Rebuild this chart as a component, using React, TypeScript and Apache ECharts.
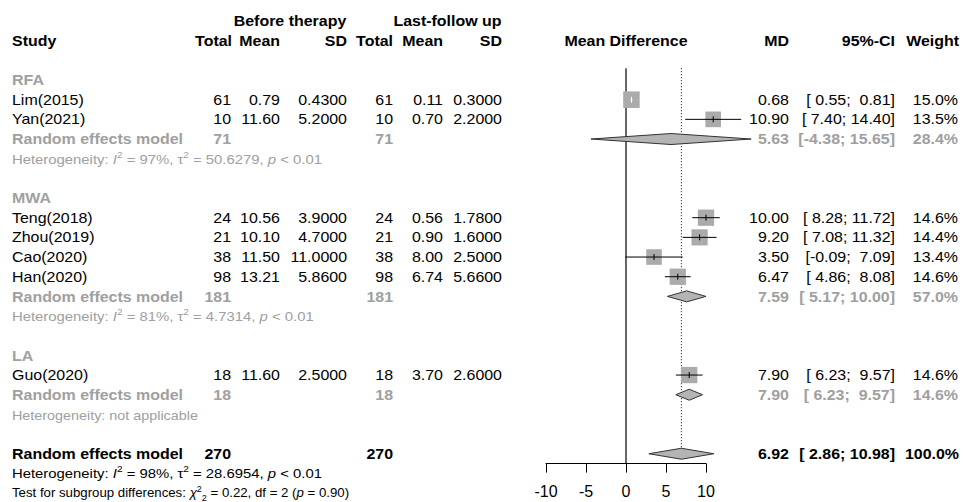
import React, { useEffect, useRef } from "react";
import * as echarts from "echarts";

// ---------- data ----------
const groupLabels = ["RFA", "MWA", "LA"];
const studyNames = ["Lim(2015)", "Yan(2021)", "Teng(2018)", "Zhou(2019)", "Cao(2020)", "Han(2020)", "Guo(2020)"];
const studyGroup = [0, 0, 1, 1, 1, 1, 2];
const beforeTotal = [61, 10, 24, 21, 38, 98, 18];
const beforeMean = [0.79, 11.6, 10.56, 10.1, 11.5, 13.21, 11.6];
const beforeSD = [0.43, 5.2, 3.9, 4.7, 11.0, 5.86, 2.5];
const afterTotal = [61, 10, 24, 21, 38, 98, 18];
const afterMean = [0.11, 0.7, 0.56, 0.9, 8.0, 6.74, 3.7];
const afterSD = [0.3, 2.2, 1.78, 1.6, 2.5, 5.66, 2.6];
const studyMD = [0.68, 10.9, 10.0, 9.2, 3.5, 6.47, 7.9];
const studyLower = [0.55, 7.4, 8.28, 7.08, -0.09, 4.86, 6.23];
const studyUpper = [0.81, 14.4, 11.72, 11.32, 7.09, 8.08, 9.57];
const studyWeight = [15.0, 13.5, 14.6, 14.4, 13.4, 14.6, 14.6];

const subTotalBefore = [71, 181, 18];
const subTotalAfter = [71, 181, 18];
const subMD = [5.63, 7.59, 7.9];
const subLower = [-4.38, 5.17, 6.23];
const subUpper = [15.65, 10.0, 9.57];
const subWeight = [28.4, 57.0, 14.6];
const subI2 = ["97%", "81%", null];
const subTau2 = ["50.6279", "4.7314", null];
const subP = ["< 0.01", "< 0.01", null];

const overallTotalBefore = 270;
const overallTotalAfter = 270;
const overallMD = 6.92;
const overallLower = 2.86;
const overallUpper = 10.98;
const overallWeight = 100.0;
const overallI2 = "98%";
const overallTau2 = "28.6954";
const overallP = "< 0.01";
const subgroupChi2 = "0.22";
const subgroupDf = 2;
const subgroupP = "0.90";

const xTicks = [-10, -5, 0, 5, 10];

// ---------- layout ----------
const FONT = "'Liberation Sans', Arial, Helvetica, sans-serif";
const TOP = 21;
const ROW = 19.67;
const AXIS_ROW = 22.5;
const SX = 1.14;
const FS = 14;
const FS_HET = 12.6;
const BLACK = "#000000";
const GRAY = "#a0a0a0";
const rowY = (k: number) => TOP + k * ROW;

const COL = {
  study: 12,
  bTot: 231,
  bMean: 280,
  bSD: 347,
  aTot: 393,
  aMean: 443,
  aSD: 502,
  md: 789,
  ci: 895,
  w: 958,
};

// rows
const studyRow: number[] = [];
const groupRow: number[] = [];
const subRow: number[] = [];
const hetRow: number[] = [];
let r = 3;
groupLabels.forEach((_, g) => {
  groupRow[g] = r++;
  studyNames.forEach((_, i) => {
    if (studyGroup[i] === g) studyRow[i] = r++;
  });
  subRow[g] = r++;
  hetRow[g] = r++;
  r++;
});
const overallRow = r;
const overallHetRow = r + 1;
const testRow = r + 2;

const NB = "\u00a0";
const pad5 = (v: number) => v.toFixed(2).padStart(5, NB);
const ciText = (lo: number, hi: number) => `[${pad5(lo)};${NB}${pad5(hi)}]`;

function richStyles(color: string, size: number) {
  const base = { fontFamily: FONT, fill: color };
  return {
    it: { ...base, fontSize: size, fontStyle: "italic" },
    sup: { ...base, fontSize: size * 0.68, lineHeight: 8, verticalAlign: "top" },
    sub: { ...base, fontSize: size * 0.68, lineHeight: 8, verticalAlign: "bottom" },
  };
}

function txt(
  text: string,
  x: number,
  y: number,
  opt: { align?: string; color?: string; bold?: boolean; size?: number; rich?: boolean; sx?: number } = {}
) {
  const align = opt.align || "right";
  const size = opt.size || FS;
  const color = opt.color || BLACK;
  const style: any = {
    text,
    fill: color,
    fontFamily: FONT,
    fontSize: size,
    fontWeight: opt.bold ? "bold" : "normal",
    align,
    textAlign: align,
    verticalAlign: "middle",
    textVerticalAlign: "middle",
  };
  if (opt.rich) {
    style.lineHeight = 18;
    style.rich = richStyles(color, size);
  }
  return { type: "text", x, y, scaleX: opt.sx || SX, scaleY: 1, silent: true, z: 10, style };
}

function hetText(I2: string, tau2: string, p: string) {
  return `Heterogeneity: {it|I}{sup|2} = ${I2}, τ{sup|2} = ${tau2}, {it|p} ${p}`;
}

function buildTexts() {
  const els: any[] = [];
  // headers
  els.push(txt("Before therapy", (COL.bTot + COL.bSD) / 2 + 1, rowY(0), { align: "center", bold: true }));
  els.push(txt("Last-follow up", (COL.aTot + COL.aSD) / 2, rowY(0), { align: "center", bold: true }));
  const y1 = rowY(1);
  els.push(txt("Study", COL.study, y1, { align: "left", bold: true }));
  els.push(txt("Total", COL.bTot + 1, y1, { bold: true }));
  els.push(txt("Mean", COL.bMean, y1, { bold: true }));
  els.push(txt("SD", COL.bSD, y1, { bold: true }));
  els.push(txt("Total", COL.aTot, y1, { bold: true }));
  els.push(txt("Mean", COL.aMean, y1, { bold: true }));
  els.push(txt("SD", COL.aSD, y1, { bold: true }));
  els.push(txt("Mean Difference", 626, y1, { align: "center", bold: true }));
  els.push(txt("MD", COL.md, y1, { bold: true }));
  els.push(txt("95%-CI", COL.ci, y1, { bold: true }));
  els.push(txt("Weight", COL.w + 1, y1, { bold: true }));

  groupLabels.forEach((lab, g) => {
    els.push(txt(lab, COL.study, rowY(groupRow[g]), { align: "left", bold: true, color: GRAY }));
    const ys = rowY(subRow[g]);
    els.push(txt("Random effects model", COL.study, ys, { align: "left", bold: true, color: GRAY }));
    els.push(txt(String(subTotalBefore[g]), COL.bTot, ys, { bold: true, color: GRAY }));
    els.push(txt(String(subTotalAfter[g]), COL.aTot, ys, { bold: true, color: GRAY }));
    els.push(txt(subMD[g].toFixed(2), COL.md, ys, { bold: true, color: GRAY }));
    els.push(txt(ciText(subLower[g], subUpper[g]), COL.ci, ys, { bold: true, color: GRAY }));
    els.push(txt(subWeight[g].toFixed(1) + "%", COL.w, ys, { bold: true, color: GRAY }));
    const yh = rowY(hetRow[g]) + 1;
    if (subI2[g]) {
      els.push(
        txt(hetText(subI2[g] as string, subTau2[g] as string, subP[g] as string), COL.study, yh, {
          align: "left",
          color: GRAY,
          size: FS_HET,
          rich: true,
          sx: 1.18,
        })
      );
    } else {
      els.push(txt("Heterogeneity: not applicable", COL.study, yh, { align: "left", color: GRAY, size: FS_HET }));
    }
  });

  studyNames.forEach((name, i) => {
    const y = rowY(studyRow[i]);
    els.push(txt(name, COL.study, y, { align: "left" }));
    els.push(txt(String(beforeTotal[i]), COL.bTot, y));
    els.push(txt(beforeMean[i].toFixed(2), COL.bMean, y));
    els.push(txt(beforeSD[i].toFixed(4), COL.bSD, y));
    els.push(txt(String(afterTotal[i]), COL.aTot, y));
    els.push(txt(afterMean[i].toFixed(2), COL.aMean, y));
    els.push(txt(afterSD[i].toFixed(4), COL.aSD, y));
    els.push(txt(studyMD[i].toFixed(2), COL.md, y));
    els.push(txt(ciText(studyLower[i], studyUpper[i]), COL.ci, y));
    els.push(txt(studyWeight[i].toFixed(1) + "%", COL.w, y));
  });

  const yo = rowY(overallRow);
  els.push(txt("Random effects model", COL.study, yo, { align: "left", bold: true }));
  els.push(txt(String(overallTotalBefore), COL.bTot, yo, { bold: true }));
  els.push(txt(String(overallTotalAfter), COL.aTot, yo, { bold: true }));
  els.push(txt(overallMD.toFixed(2), COL.md, yo, { bold: true }));
  els.push(txt(ciText(overallLower, overallUpper), COL.ci, yo, { bold: true }));
  els.push(txt(overallWeight.toFixed(1) + "%", COL.w + 1, yo, { bold: true }));
  els.push(
    txt(hetText(overallI2, overallTau2, overallP), COL.study, rowY(overallHetRow), {
      align: "left",
      size: FS_HET,
      rich: true,
      sx: 1.18,
    })
  );
  els.push(
    txt(
      `Test for subgroup differences: {it|χ}{sup|2}{sub|2} = ${subgroupChi2}, df = ${subgroupDf} ({it|p} = ${subgroupP})`,
      COL.study,
      rowY(testRow),
      { align: "left", size: FS_HET, rich: true, sx: 1.05 }
    )
  );
  return els;
}

function buildOption() {
  const studyData = studyMD.map((m, i) => [m, studyRow[i], studyLower[i], studyUpper[i], studyWeight[i]]);
  const diamondData = [
    ...subMD.map((m, g) => [m, subRow[g], subLower[g], subUpper[g]]),
    [overallMD, overallRow, overallLower, overallUpper],
  ];
  // reference lines: [x, rowStart, rowEnd, dotted]
  const refData = [
    [0, 2.4, AXIS_ROW, 0],
    [overallMD, 2.4, overallRow, 1],
  ];

  return {
    animation: false,
    backgroundColor: "#ffffff",
    grid: { left: 546, top: TOP, width: 160, height: AXIS_ROW * ROW },
    xAxis: {
      type: "value",
      min: xTicks[0],
      max: xTicks[xTicks.length - 1],
      interval: 5,
      splitLine: { show: false },
      axisLine: { show: true, onZero: false, lineStyle: { color: "#000", width: 1 } },
      axisTick: { show: true, inside: false, length: 9, lineStyle: { color: "#000", width: 1 } },
      axisLabel: { show: true, fontSize: 16, color: "#000", fontFamily: FONT, margin: 20 },
    },
    yAxis: { type: "value", min: 0, max: AXIS_ROW, inverse: true, show: false },
    graphic: { elements: buildTexts() },
    series: [
      {
        type: "custom",
        clip: false,
        z: 1,
        encode: { x: 0, y: 1 },
        data: refData,
        renderItem: (_p: any, api: any) => {
          const x = api.value(0);
          const a = api.coord([x, api.value(1)]);
          const b = api.coord([x, api.value(2)]);
          const dotted = api.value(3) === 1;
          return {
            type: "line",
            shape: { x1: a[0], y1: a[1], x2: b[0], y2: b[1] },
            style: dotted
              ? { stroke: "#000", lineWidth: 1, lineDash: [1, 2] }
              : { stroke: "#000", lineWidth: 1.2 },
          };
        },
      },
      {
        type: "custom",
        clip: false,
        z: 2,
        encode: { x: 0, y: 1 },
        data: studyData,
        renderItem: (_p: any, api: any) => {
          const row = api.value(1);
          const c = api.coord([api.value(0), row]);
          const pl = api.coord([api.value(2), row]);
          const ph = api.coord([api.value(3), row]);
          const s = 16.5 * Math.sqrt(api.value(4) / 15);
          const inside = ph[0] - pl[0] < s;
          const lc = inside ? "#ffffff" : "#000000";
          return {
            type: "group",
            children: [
              {
                type: "rect",
                shape: { x: c[0] - s / 2, y: c[1] - s / 2, width: s, height: s },
                style: { fill: "#ababab" },
              },
              {
                type: "line",
                shape: { x1: pl[0], y1: c[1], x2: ph[0], y2: c[1] },
                style: { stroke: lc, lineWidth: 1 },
              },
              {
                type: "line",
                shape: { x1: c[0], y1: c[1] - 3, x2: c[0], y2: c[1] + 3 },
                style: { stroke: lc, lineWidth: 1 },
              },
            ],
          };
        },
      },
      {
        type: "custom",
        clip: false,
        z: 3,
        encode: { x: 0, y: 1 },
        data: diamondData,
        renderItem: (_p: any, api: any) => {
          const row = api.value(1);
          const c = api.coord([api.value(0), row]);
          const pl = api.coord([api.value(2), row]);
          const ph = api.coord([api.value(3), row]);
          const h = 5.5;
          return {
            type: "polygon",
            shape: {
              points: [
                [pl[0], c[1]],
                [c[0], c[1] - h],
                [ph[0], c[1]],
                [c[0], c[1] + h],
              ],
            },
            style: { fill: "#b4b4b4", stroke: "#333333", lineWidth: 1 },
          };
        },
      },
    ],
  };
}

export default function App() {
  const ref = useRef<HTMLDivElement>(null);
  useEffect(() => {
    const chart = echarts.init(ref.current as HTMLDivElement, null, { renderer: "svg" });
    chart.setOption(buildOption() as any);
    return () => chart.dispose();
  }, []);
  return (
    <div
      ref={ref}
      style={{ position: "fixed", left: 0, top: 0, width: 963, height: 502, background: "#ffffff" }}
    />
  );
}
